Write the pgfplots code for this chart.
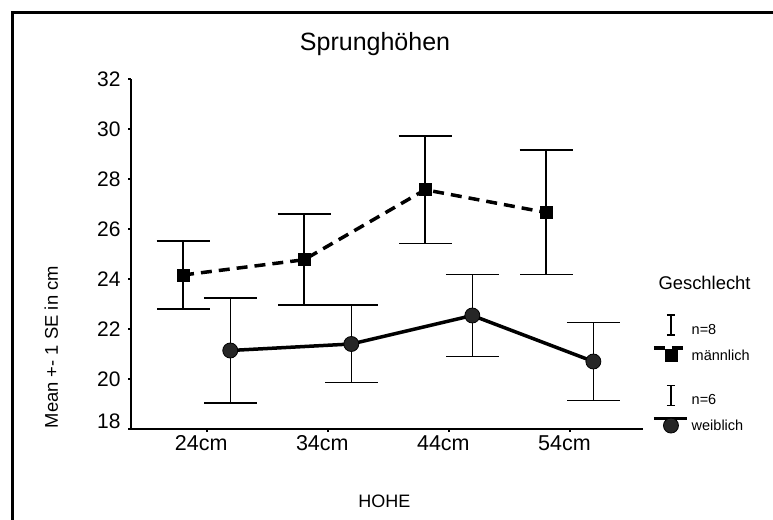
\documentclass[border=0pt]{standalone}
\usepackage{fontspec}
\setmainfont{Liberation Sans}
\usepackage{pgfplots}
\pgfplotsset{compat=1.18}

% group means and standard errors (x = category position, shifted per group)
\pgfplotstableread{
x     mean   se
0.80  24.16  1.36
1.80  24.77  1.82
2.80  27.57  2.15
3.80  26.66  2.49
}\maennlich
\pgfplotstableread{
x     mean   se
1.19  21.14  2.09
2.19  21.40  1.55
3.19  22.54  1.64
4.19  20.70  1.55
}\weiblich

% legend key in the SPSS manner: error-bar glyph with n above, line and marker with group name below
\newcommand{\spsskey}[2]{%
  \draw[solid, line width=1.5pt] (17pt,25pt) -- (17pt,45pt);
  \draw[solid, line width=1.5pt] (13pt,25pt) -- (21pt,25pt);
  \draw[solid, line width=1.5pt] (13pt,45pt) -- (21pt,45pt);
  \draw[mark=none] (0pt,12pt) -- (33pt,12pt);
  \draw plot[only marks] coordinates {(17pt,5pt)};
  \node[anchor=base west, inner sep=0pt, font=\fontsize{14.5}{17}\selectfont]
    at (36pt,26pt) {#1};
  \node[anchor=base west, inner sep=0pt, font=\fontsize{14.5}{17}\selectfont]
    at (36pt,0pt) {#2};
  \path (0pt,-3pt) (95pt,46pt);
}

\begin{document}
\begin{tikzpicture}
\useasboundingbox (0,0) rectangle (773pt,519pt);
% outer frame: left and top edges running off the page
\draw[line width=3pt] (12.5pt,-20pt) -- (12.5pt,506.5pt) -- (800pt,506.5pt);
\begin{axis}[
  at={(131pt,90pt)}, anchor=south west,
  scale only axis, width=512pt, height=350pt,
  xmin=0.37, xmax=4.6, ymin=18, ymax=32,
  axis x line*=bottom, axis y line*=left,
  axis line style={line width=1.8pt, -},
  xtick={1,2,3,4}, xticklabels={24cm,34cm,44cm,54cm},
  ytick={18,20,...,32},
  yticklabels={\raisebox{15pt}{18},20,22,24,26,28,30,32},
  tick align=outside, major tick length=3pt,
  tick style={line width=1.8pt, black},
  xticklabel style={font=\fontsize{21.5}{25}\selectfont, xshift=-6pt},
  yticklabel style={font=\fontsize{21}{25}\selectfont, xshift=-4pt},
  /pgf/number format/assume math mode=true,
  title={Sprunghöhen},
  title style={at={(axis description cs:0.4766,1.063)}, anchor=base,
    font=\fontsize{25}{30}\selectfont},
  xlabel={HOHE},
  xlabel style={at={(axis description cs:0.495,-0.223)}, anchor=base,
    font=\fontsize{18}{22}\selectfont},
  ylabel={Mean +- 1 SE in cm},
  ylabel style={at={(axis description cs:-0.1426,0.234)}, anchor=base,
    font=\fontsize{18.4}{22}\selectfont},
  legend style={draw=none, fill=none, inner sep=0pt,
    at={(axis description cs:1.0176,0.334)}, anchor=north west,
    nodes={inner sep=0pt}, row sep=18pt, column sep=0pt},
  clip=false,
]
\addplot[black, line width=3.5pt, dash pattern=on 11pt off 7pt,
  mark=square*, mark size=6pt,
  mark options={solid, fill=black, line width=0.5pt},
  legend image code/.code={\spsskey{n=8}{männlich}},
  error bars/.cd, y dir=both, y explicit,
  error bar style={line width=1.5pt, solid},
  error mark options={rotate=90, mark size=26.5pt, line width=1.5pt, solid}]
  table[x=x, y=mean, y error=se] {\maennlich};
\addlegendentry{}
\addplot[black, line width=3.5pt, solid,
  mark=*, mark size=7.5pt,
  mark options={fill=black!85, draw=black, line width=0.8pt},
  legend image code/.code={\spsskey{n=6}{weiblich}},
  error bars/.cd, y dir=both, y explicit,
  error bar style={line width=1.5pt, solid},
  error mark options={rotate=90, mark size=26.5pt, line width=1.5pt, solid}]
  table[x=x, y=mean, y error=se] {\weiblich};
\addlegendentry{}
\node[anchor=base west, font=\fontsize{18.4}{22}\selectfont]
  at (axis description cs:1.0234,0.398) {Geschlecht};
\end{axis}
\end{tikzpicture}
\end{document}
